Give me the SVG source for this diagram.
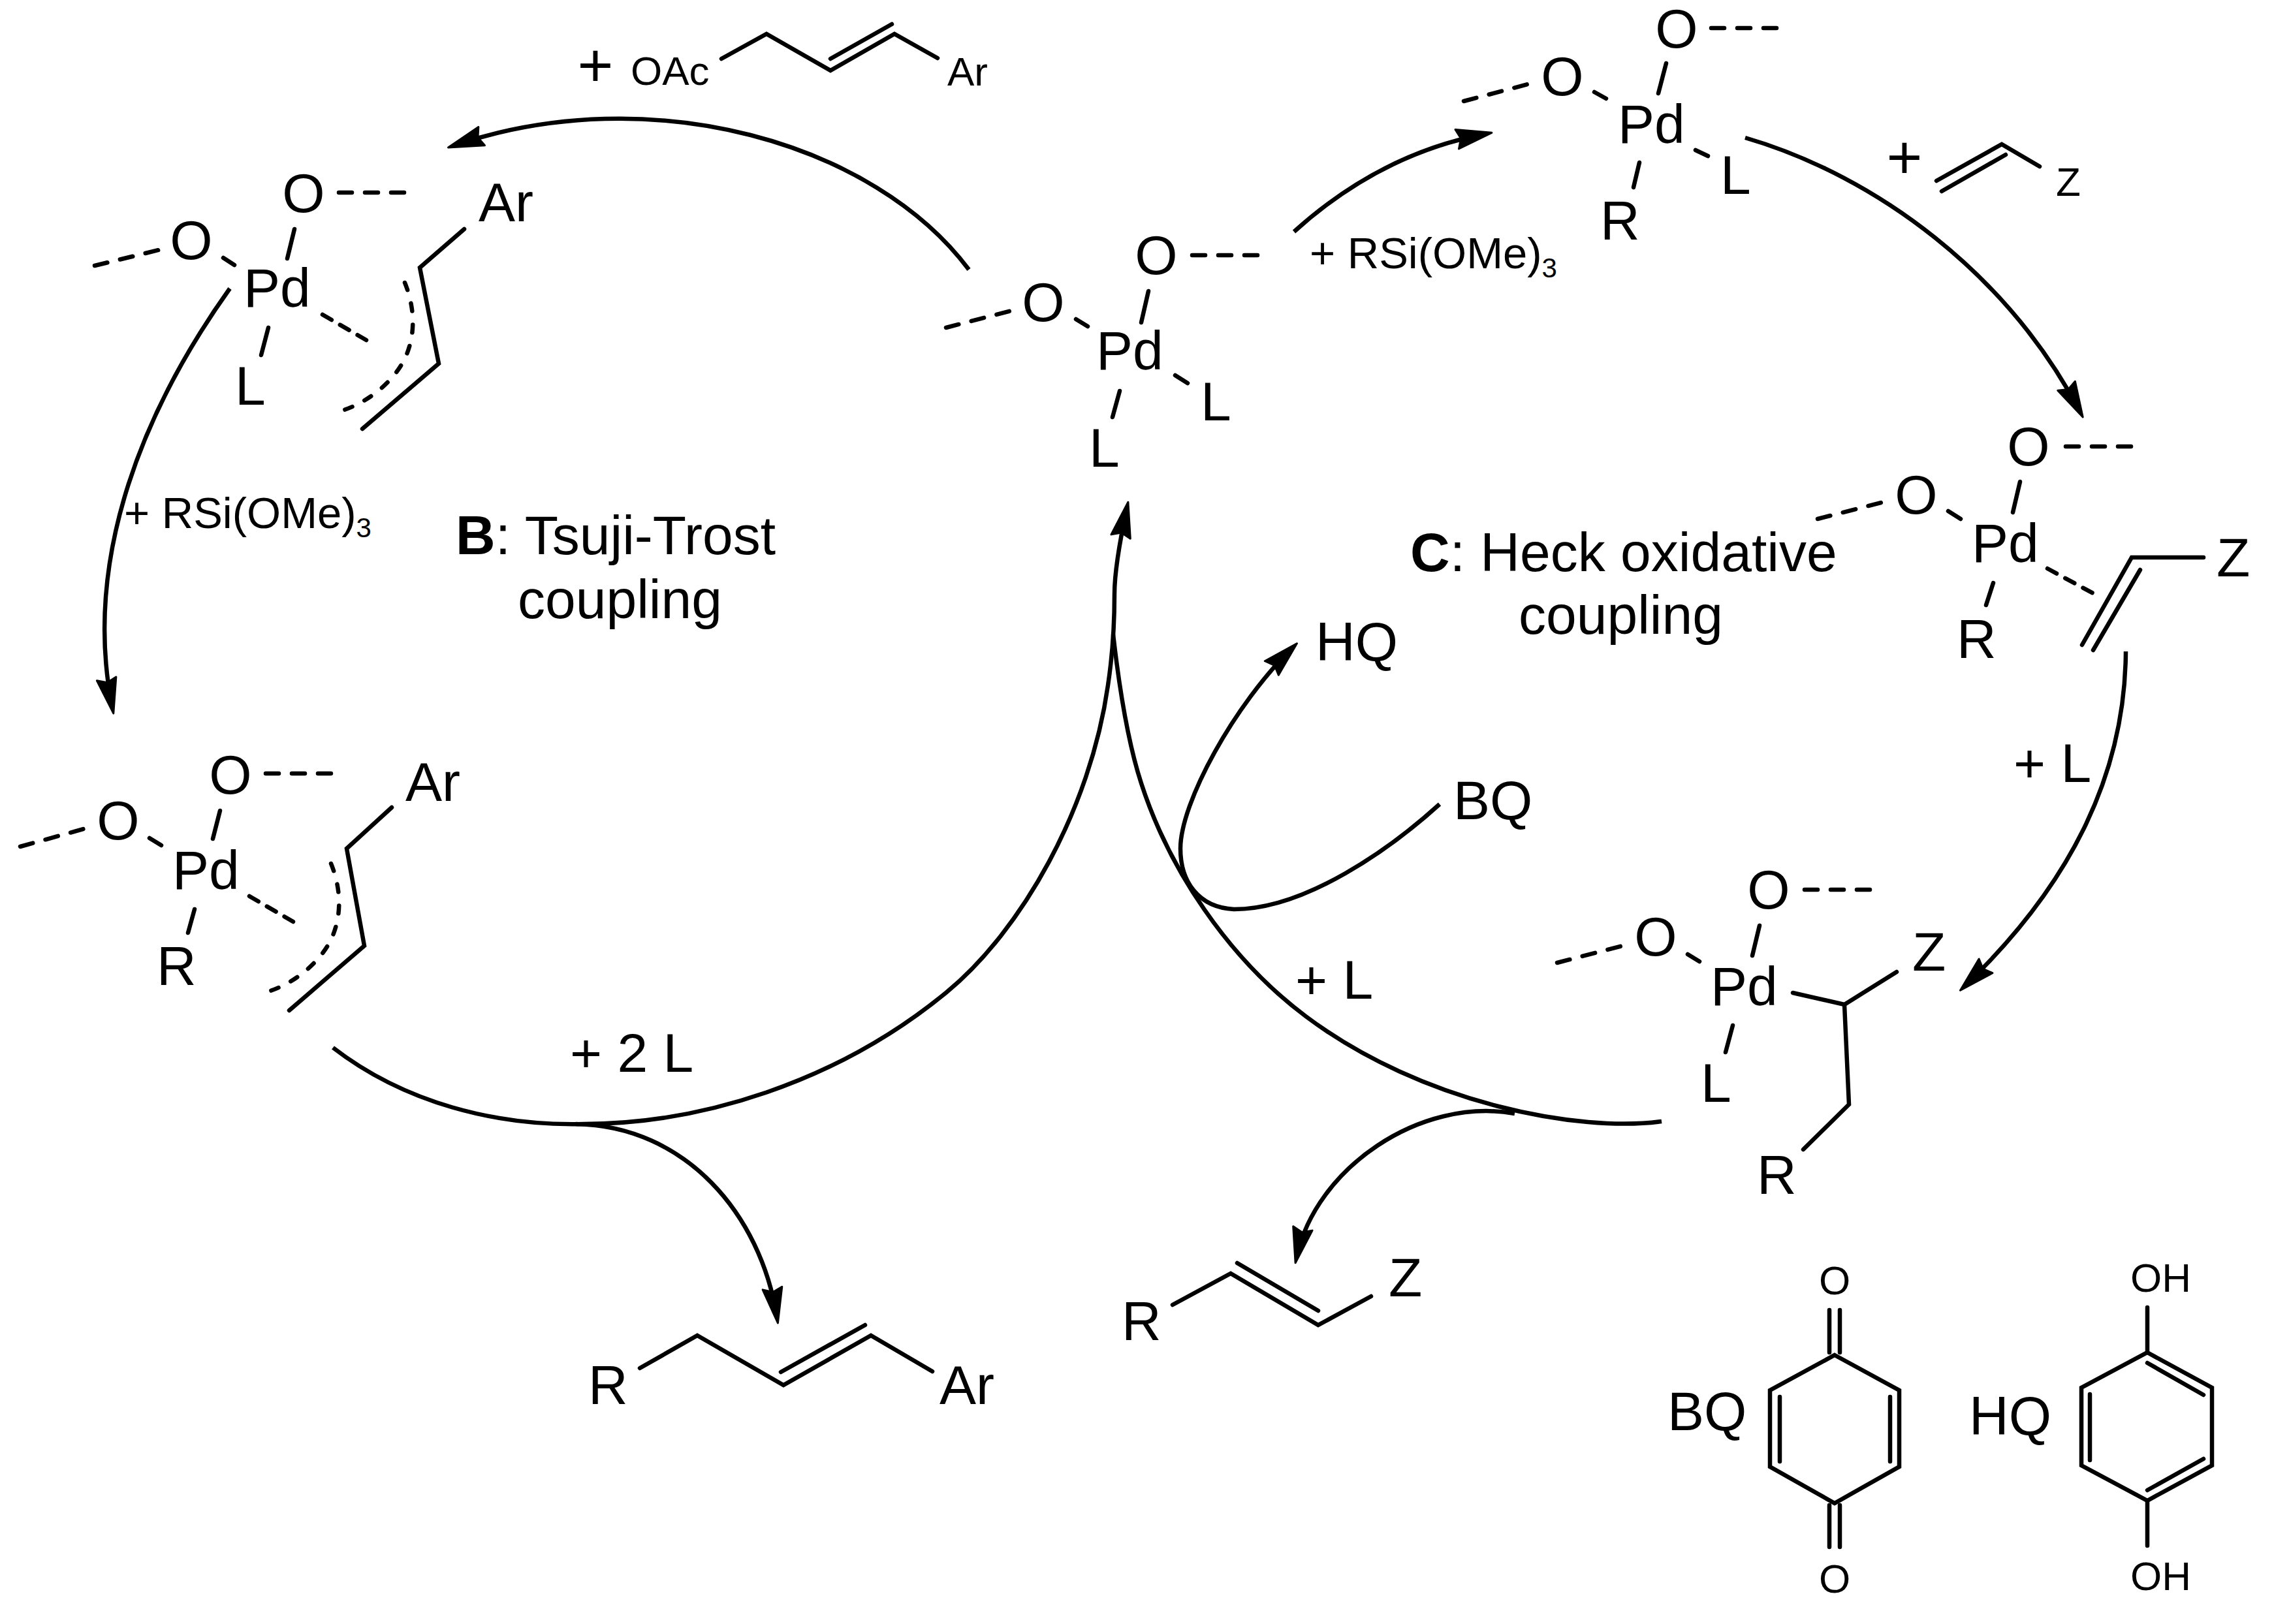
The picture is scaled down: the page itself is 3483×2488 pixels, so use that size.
<svg xmlns="http://www.w3.org/2000/svg" width="3483" height="2488" viewBox="0 0 3483 2488">
<style>
text{font-family:"Liberation Sans",Arial,sans-serif;fill:#000}
.a{font-size:84px}
.s{font-size:62px}
.m{font-size:67px}
.p{font-size:94px}
.sub{font-size:42px}
.mid{text-anchor:middle}
.b{font-weight:bold}
.l{fill:none;stroke:#000;stroke-width:6.5;stroke-linecap:round;stroke-linejoin:miter}
.d{fill:none;stroke:#000;stroke-width:6.5;stroke-linecap:round;stroke-dasharray:20 20}
.ds{fill:none;stroke:#000;stroke-width:6.5;stroke-linecap:round;stroke-dasharray:16 15}
.dc{fill:none;stroke:#000;stroke-width:6.5;stroke-linecap:round;stroke-dasharray:12 21}
.arr{fill:none;stroke:#000;stroke-width:6.5;marker-end:url(#head)}
.arc{fill:none;stroke:#000;stroke-width:6.5}
</style>
<defs>
<marker id="head" markerUnits="userSpaceOnUse" markerWidth="80" markerHeight="50" viewBox="0 -25 80 50" refX="60" refY="0" orient="auto" overflow="visible">
<path d="M69 0L15 -15L21 0L15 15Z" fill="#000" stroke="#000" stroke-width="3" stroke-linejoin="round"/>
</marker>
</defs>
<rect width="3483" height="2488" fill="#fff"/>

<g id="connectors">
<path class="arr" d="M1484 413C1340 220 1000 120 695 223"/>
<path class="arr" d="M352 442C225 620 125 850 172 1084"/>
<path class="arr" d="M1982 355Q2115 235 2276 205"/>
<path class="arr" d="M2673 211C2875 270 3075 420 3186 631"/>
<path class="arr" d="M3256 998C3255 1180 3177 1350 3009 1511"/>
<path class="arr" d="M510 1605C620 1690 760 1725 893 1722C1070 1722 1280 1660 1450 1520C1565 1425 1670 1240 1697 1050C1703 1010 1707 960 1707 910C1707 875 1716 825 1726 778"/>
<path class="arc" d="M2545 1718C2420 1735 2180 1692 2000 1557C1880 1467 1790 1330 1748 1200C1730 1145 1715 1060 1705 972"/>
<path class="arr" d="M2205 1232C2130 1300 2000 1393 1890 1393C1835 1390 1808 1350 1808 1300C1808 1230 1890 1080 1980 992"/>
<path class="arr" d="M882 1722C1050 1725 1165 1860 1190 2018"/>
<path class="arr" d="M2320 1706C2175 1680 2015 1790 1986 1926"/>
</g>

<g id="reagent-allyl-acetate">
<text class="p mid" x="912" y="132">+</text>
<text class="s" x="966" y="130">OAc</text>
<path class="l" d="M1105 90L1174 52L1272 108L1370 52L1436 89"/>
<path class="l" d="M1272 90L1366 37"/>
<text class="s" x="1451" y="131">Ar</text>
</g>

<g id="pd-allyl-l">
<text class="a mid" x="465" y="325">O</text>
<path class="d" d="M519 295H623"/>
<path class="l" d="M451 351L440 396"/>
<text class="a mid" x="293" y="397">O</text>
<path class="d" d="M145 407L243 383"/>
<path class="l" d="M342 395L359 406"/>
<text class="a" x="373" y="470">Pd</text>
<text class="a" x="360" y="620">L</text>
<path class="l" d="M411 502L400 544"/>
<path class="ds" d="M494 482L561 521"/>
<text class="a" x="733" y="339">Ar</text>
<path class="l" d="M711 351L643 410L672 557L555 657"/>
<path class="dc" d="M620 433C635 470 637 510 622 545C608 578 570 615 521 630"/>
</g>

<g id="pd-allyl-r">
<text class="a mid" x="353" y="1216">O</text>
<path class="d" d="M407 1185H511"/>
<path class="l" d="M337 1242L326 1285"/>
<text class="a mid" x="181" y="1286">O</text>
<path class="d" d="M31 1297L128 1270"/>
<path class="l" d="M229 1284L247 1295"/>
<text class="a" x="264" y="1362">Pd</text>
<path class="l" d="M298 1393L288 1429"/>
<text class="a" x="240" y="1509">R</text>
<path class="ds" d="M382 1373L449 1412"/>
<text class="a" x="621" y="1227">Ar</text>
<path class="l" d="M600 1237L531 1300L558 1449L443 1548"/>
<path class="dc" d="M507 1323C522 1360 524 1400 509 1435C495 1468 457 1505 408 1520"/>
</g>

<g id="pd-center">
<text class="a mid" x="1771" y="420">O</text>
<path class="d" d="M1826 391H1930"/>
<path class="l" d="M1759 446L1748 494"/>
<text class="a mid" x="1598" y="492">O</text>
<path class="d" d="M1449 502L1549 476"/>
<path class="l" d="M1648 489L1666 500"/>
<text class="a" x="1679" y="566">Pd</text>
<path class="l" d="M1715 599L1704 639"/>
<text class="a" x="1668" y="715">L</text>
<path class="l" d="M1800 575L1819 587"/>
<text class="a" x="1839" y="644">L</text>
</g>

<g id="pd-r-l" transform="translate(-6 0)">
<text class="a mid" x="2574" y="73">O</text>
<path class="d" d="M2627 43H2731"/>
<path class="l" d="M2558 97L2546 143"/>
<text class="a mid" x="2399" y="146">O</text>
<path class="d" d="M2248 155L2350 128"/>
<path class="l" d="M2448 141L2466 151"/>
<text class="a" x="2484" y="219">Pd</text>
<path class="l" d="M2517 249L2508 287"/>
<text class="a" x="2457" y="367">R</text>
<path class="l" d="M2603 230L2622 239"/>
<text class="a" x="2641" y="297">L</text>
</g>

<g id="reagent-alkene" transform="translate(-10 0)">
<text class="p mid" x="2927" y="273">+</text>
<path class="l" d="M2976 277L3076 221L3134 255"/>
<path class="l" d="M2984 293L3082 237"/>
<text class="s" x="3159" y="300">Z</text>
</g>

<g id="pd-alkene" transform="translate(-10 0)">
<text class="a mid" x="3117" y="713">O</text>
<path class="d" d="M3174 684H3277"/>
<path class="l" d="M3104 738L3093 785"/>
<text class="a mid" x="2945" y="787">O</text>
<path class="d" d="M2794 795L2895 769"/>
<path class="l" d="M2994 783L3013 795"/>
<text class="a" x="3030" y="861">Pd</text>
<path class="l" d="M3063 893L3052 927"/>
<text class="a" x="3007" y="1008">R</text>
<path class="ds" d="M3146 871L3216 909"/>
<text class="a" x="3405" y="883">Z</text>
<path class="l" d="M3385 854H3275L3199 988"/>
<path class="l" d="M3288 873L3216 996"/>
</g>

<g id="pd-alkyl" transform="translate(-6 0)">
<text class="a mid" x="2715" y="1392">O</text>
<path class="d" d="M2770 1363H2873"/>
<path class="l" d="M2701 1418L2690 1464"/>
<text class="a mid" x="2542" y="1464">O</text>
<path class="d" d="M2391 1475L2491 1449"/>
<path class="l" d="M2591 1462L2609 1473"/>
<text class="a" x="2626" y="1540">Pd</text>
<path class="l" d="M2660 1571L2649 1612"/>
<text class="a" x="2611" y="1688">L</text>
<path class="l" d="M2752 1521L2831 1539L2911 1489"/>
<text class="a" x="2935" y="1487">Z</text>
<path class="l" d="M2831 1539L2838 1692L2768 1761"/>
<text class="a" x="2697" y="1829">R</text>
</g>

<g id="product-tsuji-trost">
<text class="a" x="901" y="2151">R</text>
<path class="l" d="M980 2096L1068 2046L1200 2122L1334 2046L1428 2101"/>
<path class="l" d="M1196 2102L1325 2030"/>
<text class="a" x="1439" y="2151">Ar</text>
</g>

<g id="product-heck" transform="translate(-2 0)">
<text class="a" x="1720" y="2053">R</text>
<path class="l" d="M1798 1999L1887 1951L2021 2030L2102 1986"/>
<path class="l" d="M1897 1935L2021 2008"/>
<text class="a" x="2129" y="1986">Z</text>
</g>

<g id="benzoquinone" transform="translate(-9 0)">
<text class="s mid" x="2819" y="1983">O</text>
<path class="l" d="M2811 2007V2072M2827 2007V2072"/>
<path class="l" d="M2819 2076L2918 2130V2247L2819 2303L2720 2247V2130Z"/>
<path class="l" d="M2735 2140V2239M2904 2140V2239"/>
<path class="l" d="M2811 2306V2370M2827 2306V2370"/>
<text class="s mid" x="2819" y="2440">O</text>
<text class="a" x="2563" y="2191">BQ</text>
</g>

<g id="hydroquinone" transform="translate(-11 0)">
<text class="s" x="3274" y="1979">OH</text>
<path class="l" d="M3300 2003V2072"/>
<path class="l" d="M3300 2072L3399 2126V2245L3300 2299L3199 2245V2126Z"/>
<path class="l" d="M3212 2136V2237M3300 2088L3386 2137M3386 2235L3300 2283"/>
<path class="l" d="M3300 2299V2368"/>
<text class="s" x="3274" y="2436">OH</text>
<text class="a" x="3027" y="2198">HQ</text>
</g>

<g id="labels">
<text class="m" x="190" y="809">+ RSi(OMe)<tspan class="sub" dy="14">3</tspan></text>
<text class="m" x="2006" y="411">+ RSi(OMe)<tspan class="sub" dy="14">3</tspan></text>
<text class="a" x="698" y="849"><tspan class="b">B</tspan>: Tsuji-Trost</text>
<text class="a" x="793" y="947">coupling</text>
<text class="a" x="2160" y="875"><tspan class="b">C</tspan>: Heck oxidative</text>
<text class="a" x="2326" y="971">coupling</text>
<text class="a" x="2015" y="1012">HQ</text>
<text class="a" x="2226" y="1255">BQ</text>
<text class="a" x="3084" y="1198">+ L</text>
<text class="a" x="1984" y="1530">+ L</text>
<text class="a" x="873" y="1642">+ 2 L</text>
</g>
</svg>
